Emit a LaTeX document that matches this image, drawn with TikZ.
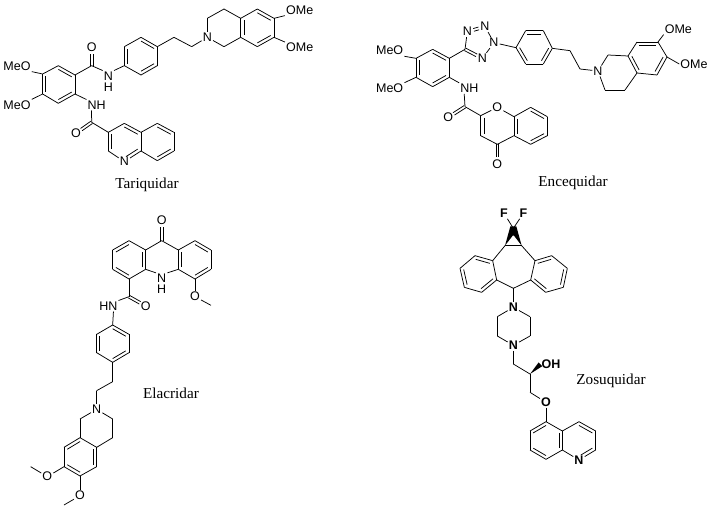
\documentclass[tikz,border=0pt]{standalone}
\usepackage{fontspec}
\setmainfont{Liberation Sans}
\newfontfamily\capfont{Liberation Serif}
\usetikzlibrary{calc}
\tikzset{
  bond/.style={draw=black,line width=.75pt,line join=round},
  atom/.style={font=\fontsize{12.5}{11.3}\selectfont,inner sep=1pt,align=center,text=black},
  batom/.style={atom,font=\fontsize{12.5}{11.3}\selectfont\bfseries},
  caption/.style={font=\capfont\fontsize{15.2}{16}\selectfont,inner sep=0pt,text=black},
  mol/.style={x=.33333pt,y=-.33333pt}
}
\newcommand\pts[1]{\foreach \n/\x/\y in {#1}{\coordinate (\n) at (\x,\y);}}
\newcommand\bonds[1]{\foreach \a/\b in {#1}{\draw[bond] (\a) -- (\b);}}
\newcommand\rb[4][]{\draw[bond,#1] ($(#2)!.2!(#4)$) -- ($(#3)!.2!(#4)$);}
% double bond from #2 to the atom node #3: two parallel lines
\newcommand\db[3][]{%
  \draw[bond,shorten >=6.5pt,#1] ($(#2)!1.4pt!90:(#3)$) -- ($(#3)!1.4pt!-90:(#2)$);
  \draw[bond,shorten >=6.5pt,#1] ($(#2)!1.4pt!-90:(#3)$) -- ($(#3)!1.4pt!90:(#2)$);}
\begin{document}
\begin{tikzpicture}
\path[fill=white] (0,0) rectangle (711pt,-508pt);
\useasboundingbox (0,0) rectangle (711pt,-508pt);
% ---------------- Tariquidar
\begin{scope}[mol]
\pts{ta1/128/222,ta2/175/197,ta3/225/225,ta4/225/282,ta5/175/310,ta6/128/282,taC/176/253,
tc1/275/197,tp1/373/197,tp2/373/140,tp3/423/112,tp4/472/140,tp5/472/197,tp6/423/225,tpC/423/168,
tch1/522/112,tch2/575/140,ts1/622/55,ts2/672/27,ts3/722/55,ts4/722/112,ts5/672/140,
tb1/772/27,tb2/822/55,tb3/822/112,tb4/772/140,tbC/772/84,
tc2/275/367,tq1/325/397,tq2/373/370,tq3/423/397,tq4/423/453,tq6/325/453,tqC/373/425,
tr1/472/370,tr2/522/397,tr3/522/453,tr4/472/482,trC/472/425}
\node[atom] (tO1) at (275,143) {O};
\node[atom] (tN1) at (325,245) {N\\H};
\node[atom] (tN2) at (622,112) {N};
\node[atom] (tOa) at (51,198) {MeO};
\node[atom] (tOb) at (51,315) {MeO};
\node[atom] (tOc) at (899,30) {OMe};
\node[atom] (tOd) at (899,143) {OMe};
\node[atom] (tNH) at (290,315) {NH};
\coordinate (tNHb) at ($(tNH.south west)!.25!(tNH.south east)$);
\node[atom] (tO2) at (228,400) {O};
\node[atom] (tN3) at (373,485) {N};
\bonds{ta1/ta2,ta2/ta3,ta3/ta4,ta4/ta5,ta5/ta6,ta6/ta1,ta3/tc1,tc1/tN1.north west,tN1.north east/tp1,
tp1/tp2,tp2/tp3,tp3/tp4,tp4/tp5,tp5/tp6,tp6/tp1,tp4/tch1,tch1/tch2,tch2/tN2,tN2/ts1,ts1/ts2,ts2/ts3,ts3/ts4,ts4/ts5,ts5/tN2,
ts3/tb1,tb1/tb2,tb2/tb3,tb3/tb4,tb4/ts4,tb2/tOc.south west,tb3/tOd.north west,
ta1/tOa.south east,ta6/tOb.north east,ta4/tNH.north west,tNHb/tc2,tc2/tq1,
tq1/tq2,tq2/tq3,tq3/tq4,tq4/tN3,tN3/tq6,tq6/tq1,tq3/tr1,tr1/tr2,tr2/tr3,tr3/tr4,tr4/tq4}
\db{tc1}{tO1}
\db{tc2}{tO2}
\rb{ta1}{ta6}{taC}\rb{ta2}{ta3}{taC}\rb{ta4}{ta5}{taC}
\rb{tp1}{tp2}{tpC}\rb{tp3}{tp4}{tpC}\rb{tp5}{tp6}{tpC}
\rb{ts3}{ts4}{tbC}\rb{tb1}{tb2}{tbC}\rb{tb3}{tb4}{tbC}
\rb{tq1}{tq6}{tqC}\rb{tq2}{tq3}{tqC}\rb[shorten >=2pt]{tq4}{tN3}{tqC}
\rb{tr1}{tr2}{trC}\rb{tr3}{tr4}{trC}
\end{scope}
\node[caption] (tcap) at (147pt,-185pt) {Tariquidar};
% ---------------- Encequidar
\begin{scope}[mol,shift={(360pt,0pt)}]
\pts{ea1/168/175,ea2/218/148,ea3/268/175,ea4/268/232,ea5/218/260,ea6/168/232,eaC/218/204,
ec1/315/148,etC/360/128,
ep1/468/143,ep2/497/92,ep3/550/92,ep4/577/145,ep5/550/192,ep6/497/192,epC/522/142,
ech1/630/152,ech2/660/207,
es1/744/165,es2/804/168,es3/831/219,es4/795/270,es5/735/270,
eb1/831/126,eb2/894/126,eb3/921/171,eb4/891/225,ebC/862/172,
ec2/315/320,eq1/362/347,eq3/462/350,eq4/462/407,eq5/412/433,eq6/362/407,eqC/412/378,
er1/512/322,er2/562/350,er3/562/407,er4/512/433,erC/512/378}
\node[atom] (eN1) at (322,95) {N};
\node[atom] (eN2) at (375,80) {N};
\node[atom] (eN3) at (402,128) {N};
\node[atom] (eN4) at (367,175) {N};
\node[atom] (eN5) at (714,213) {N};
\node[atom] (eOa) at (89,152) {MeO};
\node[atom] (eOb) at (89,265) {MeO};
\node[atom] (eOc) at (955,87) {OMe};
\node[atom] (eOd) at (1002,192) {OMe};
\node[atom] (eNH) at (328,265) {NH};
\coordinate (eNHb) at ($(eNH.south west)!.25!(eNH.south east)$);
\node[atom] (eO1) at (265,352) {O};
\node[atom] (eO2) at (412,322) {O};
\node[atom] (eO3) at (412,492) {O};
\bonds{ea1/ea2,ea2/ea3,ea3/ea4,ea4/ea5,ea5/ea6,ea6/ea1,ea3/ec1,ea1/eOa.south east,ea6/eOb.north east,
ec1/eN1,eN2/eN3,eN3/eN4,eN3/ep1,
ep1/ep2,ep2/ep3,ep3/ep4,ep4/ep5,ep5/ep6,ep6/ep1,ep4/ech1,ech1/ech2,ech2/eN5,eN5/es1,es1/es2,es2/es3,es3/es4,es4/es5,es5/eN5,
es2/eb1,eb1/eb2,eb2/eb3,eb3/eb4,eb4/es3,eb2/eOc.south west,eb3/eOd.west,
ea4/eNH.north west,eNHb/ec2,ec2/eq1,eq1/eO2,eO2/eq3,eq3/eq4,eq4/eq5,eq5/eq6,eq6/eq1,
eq3/er1,er1/er2,er2/er3,er3/er4,er4/eq4}
\db{ec1}{eN4}
\db[shorten <=6.5pt]{eN1}{eN2}
\db{ec2}{eO1}
\db{eq5}{eO3}
\rb{ea1}{ea6}{eaC}\rb{ea2}{ea3}{eaC}\rb{ea4}{ea5}{eaC}
\rb{ep2}{ep3}{epC}\rb{ep4}{ep5}{epC}\rb{ep6}{ep1}{epC}
\rb{es2}{es3}{ebC}\rb{eb1}{eb2}{ebC}\rb{eb3}{eb4}{ebC}
\rb{eq1}{eq6}{eqC}\rb{er1}{er2}{erC}\rb{er3}{er4}{erC}\rb{eq3}{eq4}{erC}
\end{scope}
\node[caption] (ecap) at (573pt,-183pt) {Encequidar};
% ---------------- Elacridar
\begin{scope}[mol,shift={(0pt,-200pt)}]
\pts{lc/485/122,lm1/535/150,lm2/535/208,lm3/437/208,lm4/437/150,
la1/387/122,la2/338/150,la3/338/208,la4/387/237,laC/387/180,
lb1/585/122,lb2/633/150,lb3/633/208,lb4/585/237,lbC/585/180,
lme1/633/316,lc2/387/290,
lp1/338/375,lp2/387/403,lp3/387/458,lp4/338/487,lp5/290/458,lp6/290/403,lpC/338/431,
lch1/338/545,lch2/290/572,
ls1/338/657,ls2/338/713,ls3/290/742,ls4/240/713,ls5/240/657,
lr1/290/800,lr2/240/828,lr3/192/800,lr4/192/742,lrC/241/771,
lme2/92/800,lme3/192/915}
\node[atom] (lO1) at (485,60) {O};
\node[atom] (lN1) at (485,252) {N\\H};
\node[atom] (lO2) at (585,290) {O};
\node[atom] (lO3) at (437,318) {O};
\node[atom] (lHN) at (325,318) {HN};
\coordinate (lHNb) at ($(lHN.south west)!.75!(lHN.south east)$);
\node[atom] (lN2) at (290,628) {N};
\node[atom] (lO4) at (142,830) {O};
\node[atom] (lO5) at (240,887) {O};
\bonds{lc/lm1,lm1/lm2,lm2/lN1.north east,lN1.north west/lm3,lm3/lm4,lm4/lc,
lm4/la1,la1/la2,la2/la3,la3/la4,la4/lm3,lm1/lb1,lb1/lb2,lb2/lb3,lb3/lb4,lb4/lm2,
lb4/lO2,lO2/lme1,la4/lc2,lc2/lHN.north east,lHNb/lp1,
lp1/lp2,lp2/lp3,lp3/lp4,lp4/lp5,lp5/lp6,lp6/lp1,lp4/lch1,lch1/lch2,lch2/lN2,
lN2/ls1,ls1/ls2,ls2/ls3,ls3/ls4,ls4/ls5,ls5/lN2,
ls3/lr1,lr1/lr2,lr2/lr3,lr3/lr4,lr4/ls4,lr3/lO4,lO4/lme2,lr2/lO5,lO5/lme3}
\db{lc}{lO1}
\db{lc2}{lO3}
\rb{la1}{la2}{laC}\rb{la3}{la4}{laC}\rb{lm3}{lm4}{laC}
\rb{lb1}{lb2}{lbC}\rb{lb3}{lb4}{lbC}\rb{lm1}{lm2}{lbC}
\rb{lp1}{lp2}{lpC}\rb{lp3}{lp4}{lpC}\rb{lp5}{lp6}{lpC}
\rb{ls3}{lr1}{lrC}\rb{lr2}{lr3}{lrC}\rb{lr4}{ls4}{lrC}
\end{scope}
\node[caption] (lcap) at (171pt,-393pt) {Elacridar};
% ---------------- Zosuquidar
\begin{scope}[mol,shift={(430pt,-200pt)}]
\pts{zc/250/85,z1/225/137,z2/275/137,z3/315/182,z4/302/240,z5/250/265,z6/200/240,z7/188/182,
zl1/155/277,zl2/103/262,zl3/90/205,zl4/135/167,zlC/145/222,
zr1/365/167,zr2/412/205,zr3/400/262,zr4/347/277,zrC/357/222,
zp1/300/350,zp2/300/408,zp3/202/408,zp4/202/350,
zch1/250/492,zch2/300/522,zch3/300/577,
zq1/348/665,zq2/397/693,zq3/397/750,zq4/348/778,zq5/300/750,zq6/300/693,zqC/348/722,
zs1/447/665,zs2/497/693,zs3/497/750,zsC/447/722}
\node[batom] (zF1) at (222,40) {F};
\node[batom] (zF2) at (280,40) {F};
\node[batom] (zN1) at (250,322) {N};
\node[batom] (zN2) at (250,436) {N};
\node[batom] (zOH) at (363,493) {OH};
\node[batom] (zO) at (348,607) {O};
\node[batom] (zN3) at (447,780) {N};
\fill[black] (z1) -- ($(zc)+(-9,-6)$) -- ($(zc)+(9,-6)$) -- (z2) -- ($(zc)+(2,22)$) -- ($(zc)+(-2,22)$) -- cycle;
\bonds{zc/zF1,zc/zF2,z1/z2,z2/z3,z3/z4,z4/z5,z5/z6,z6/z7,z7/z1,
z7/zl4,zl4/zl3,zl3/zl2,zl2/zl1,zl1/z6,z3/zr1,zr1/zr2,zr2/zr3,zr3/zr4,zr4/z4,
z5/zN1,zN1/zp1,zp1/zp2,zp2/zN2,zN2/zp3,zp3/zp4,zp4/zN1,zN2/zch1,zch1/zch2,zch2/zch3,zch3/zO,zO/zq1,
zq1/zq2,zq2/zq3,zq3/zq4,zq4/zq5,zq5/zq6,zq6/zq1,zq2/zs1,zs1/zs2,zs2/zs3,zs3/zN3,zN3/zq3}
\draw[bond,line width=1pt] (z1) -- (z2);
\fill[black] (zch2) -- ($(zOH.west)!2.6pt!90:(zch2)$) -- ($(zOH.west)!-2.6pt!90:(zch2)$) -- cycle;
\rb{z7}{zl4}{zlC}\rb{zl3}{zl2}{zlC}\rb{zl1}{z6}{zlC}
\rb{z3}{zr1}{zrC}\rb{zr2}{zr3}{zrC}\rb{zr4}{z4}{zrC}
\rb{zq1}{zq6}{zqC}\rb{zq5}{zq4}{zqC}\rb{zq2}{zq3}{zqC}
\rb{zs1}{zs2}{zsC}\rb[shorten >=2pt]{zs3}{zN3}{zsC}
\end{scope}
\node[caption] (zcap) at (611pt,-381pt) {Zosuquidar};
\end{tikzpicture}
\end{document}
